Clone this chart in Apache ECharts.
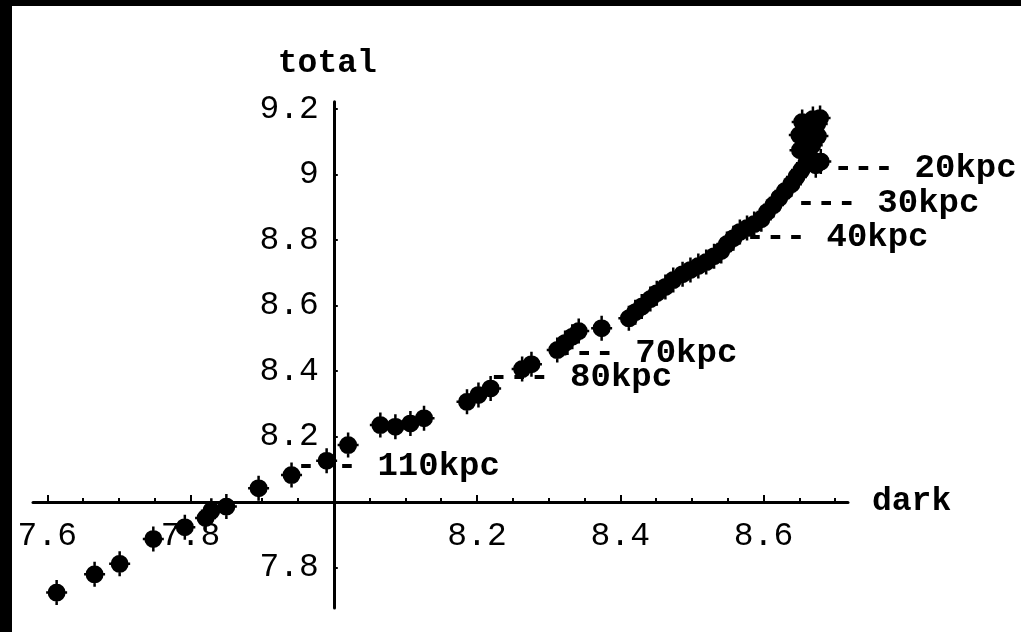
<!DOCTYPE html>
<html>
<head>
<meta charset="utf-8">
<script src="https://cdn.jsdelivr.net/npm/echarts@6/dist/echarts.min.js"></script>
<style>
  html, body { margin: 0; padding: 0; width: 1021px; height: 632px; overflow: hidden; background: #000; }
  #chart { position: absolute; left: 12px; top: 6px; width: 1009px; height: 626px; background: #fff; }
</style>
</head>
<body>
<div id="chart"></div>
<script>
// log mass of the dark component vs log total mass, one point per radius
const darkValues = [
  7.613, 7.666, 7.701, 7.748, 7.792, 7.821, 7.829, 7.850, 7.895, 7.941,
  7.990, 8.020, 8.065, 8.086, 8.107, 8.126, 8.186, 8.202, 8.219, 8.263,
  8.276, 8.312, 8.323, 8.333, 8.342, 8.374, 8.412, 8.421, 8.430, 8.442,
  8.451, 8.463, 8.474, 8.487, 8.498, 8.509, 8.520, 8.531, 8.541, 8.549,
  8.558, 8.567, 8.577, 8.587, 8.597, 8.605, 8.614, 8.622, 8.630, 8.639,
  8.646, 8.653, 8.660, 8.673, 8.665, 8.651, 8.668, 8.650, 8.668, 8.654,
  8.669, 8.679, 8.660, 8.662, 8.675, 8.676, 8.680
];
const totalValues = [
  7.723, 7.779, 7.811, 7.887, 7.923, 7.951, 7.973, 7.986, 8.042, 8.082,
  8.126, 8.174, 8.235, 8.230, 8.240, 8.256, 8.306, 8.327, 8.347, 8.406,
  8.421, 8.464, 8.486, 8.505, 8.522, 8.531, 8.561, 8.580, 8.597, 8.620,
  8.638, 8.657, 8.678, 8.696, 8.709, 8.721, 8.733, 8.751, 8.767, 8.788,
  8.806, 8.825, 8.837, 8.849, 8.864, 8.886, 8.907, 8.929, 8.950, 8.971,
  8.993, 9.014, 9.035, 9.029, 9.054, 9.075, 9.090, 9.121, 9.130, 9.161,
  9.170, 9.173, 9.105, 9.145, 9.155, 9.118, 9.040
];

// radius annotations, anchored at their left end
const annotationText  = ['--- 20kpc', '--- 30kpc', '--- 40kpc', '--- 70kpc', '--- 80kpc', '--- 110kpc'];
const annotationDark  = [8.697, 8.645, 8.574, 8.307, 8.216, 7.947];
const annotationTotal = [9.019, 8.912, 8.808, 8.454, 8.379, 8.108];

// axis ticks and labels
const xMinorTicks = [7.6, 7.65, 7.7, 7.75, 7.8, 7.85, 7.9, 7.95, 8.0, 8.05, 8.1, 8.15,
                     8.2, 8.25, 8.3, 8.35, 8.4, 8.45, 8.5, 8.55, 8.6, 8.65, 8.7];
const xMajorTicks = [7.6, 7.8, 8.0, 8.2, 8.4, 8.6];
const xTickLabels = [7.6, 7.8, 8.2, 8.4, 8.6];
const yTicks      = [7.8, 8.0, 8.2, 8.4, 8.6, 8.8, 9.0, 9.2];
const yTickLabels = [7.8, 8.2, 8.4, 8.6, 8.8, 9.0, 9.2];

const xRange = [7.58, 8.718];
const yRange = [7.676, 9.223];
const axisCross = [8.0, 8.0];   // axes meet at (dark, total) = (8, 8)

const FONT = '"Liberation Mono", "Courier New", monospace';
const gridBox = { left: 21, top: 95.7, width: 815, height: 506.3 };

// shift the axes from the grid edge to the crossing point
const xAxisOffset = -(axisCross[1] - yRange[0]) / (yRange[1] - yRange[0]) * gridBox.height;
const yAxisOffset = -(axisCross[0] - xRange[0]) / (xRange[1] - xRange[0]) * gridBox.width;

const fmt = v => String(+(+v).toFixed(2));

// filled dot with short spikes
const markerPath = 'path://M1.5,12.5 A9,9 0 1 1 19.5,12.5 A9,9 0 1 1 1.5,12.5 Z ' +
  'M9.25,0 L11.75,0 L11.75,25 L9.25,25 Z M0,11.25 L21,11.25 L21,13.75 L0,13.75 Z';

const points = darkValues.map((d, i) => [d, totalValues[i]]);
const notes = annotationText.map((t, i) => [annotationDark[i], annotationTotal[i], t]);

const chart = echarts.init(document.getElementById('chart'), null, { renderer: 'canvas' });
chart.setOption({
  animation: false,
  backgroundColor: '#fff',
  grid: gridBox,
  xAxis: [
    {
      type: 'value', min: xRange[0], max: xRange[1], position: 'bottom', offset: xAxisOffset,
      name: 'dark', nameLocation: 'end', nameGap: 24,
      nameTextStyle: { fontFamily: FONT, fontSize: 33, color: '#000', fontWeight: 'bold' },
      axisLine: { show: true, lineStyle: { color: '#000', width: 3 } },
      axisTick: { show: true, inside: true, length: 4, customValues: xMinorTicks, lineStyle: { color: '#000', width: 2 } },
      axisLabel: { show: false },
      splitLine: { show: false }
    },
    {
      type: 'value', min: xRange[0], max: xRange[1], position: 'bottom', offset: xAxisOffset,
      axisLine: { show: false },
      axisTick: { show: true, inside: true, length: 7, customValues: xMajorTicks, lineStyle: { color: '#000', width: 2 } },
      axisLabel: { show: true, customValues: xTickLabels, margin: 18, formatter: fmt,
                   fontFamily: FONT, fontSize: 33, color: '#000' },
      splitLine: { show: false }
    }
  ],
  yAxis: {
    type: 'value', min: yRange[0], max: yRange[1], position: 'left', offset: yAxisOffset,
    name: 'total', nameLocation: 'end', nameGap: 22,
    nameTextStyle: { fontFamily: FONT, fontSize: 33, color: '#000', fontWeight: 'bold', padding: [0, 13, 0, 0] },
    axisLine: { show: true, lineStyle: { color: '#000', width: 3 } },
    axisTick: { show: true, inside: true, length: 4, customValues: yTicks, lineStyle: { color: '#000', width: 2 } },
    axisLabel: { show: true, customValues: yTickLabels, margin: 15, formatter: fmt,
                 fontFamily: FONT, fontSize: 33, color: '#000' },
    splitLine: { show: false }
  },
  series: [
    {
      name: 'radius', type: 'scatter', z: 1, xAxisIndex: 0, yAxisIndex: 0,
      symbolSize: 0, data: notes, silent: true,
      itemStyle: { opacity: 1 },
      label: { show: true, position: 'right', distance: 0, formatter: p => p.data[2],
               fontFamily: FONT, fontSize: 34, fontWeight: 'bold', color: '#000', opacity: 1 }
    },
    {
      name: 'mass', type: 'scatter', z: 3, xAxisIndex: 0, yAxisIndex: 0,
      symbol: markerPath, symbolSize: [21, 25], data: points, clip: false,
      itemStyle: { color: '#000', opacity: 1 }
    }
  ]
});
</script>
</body>
</html>
